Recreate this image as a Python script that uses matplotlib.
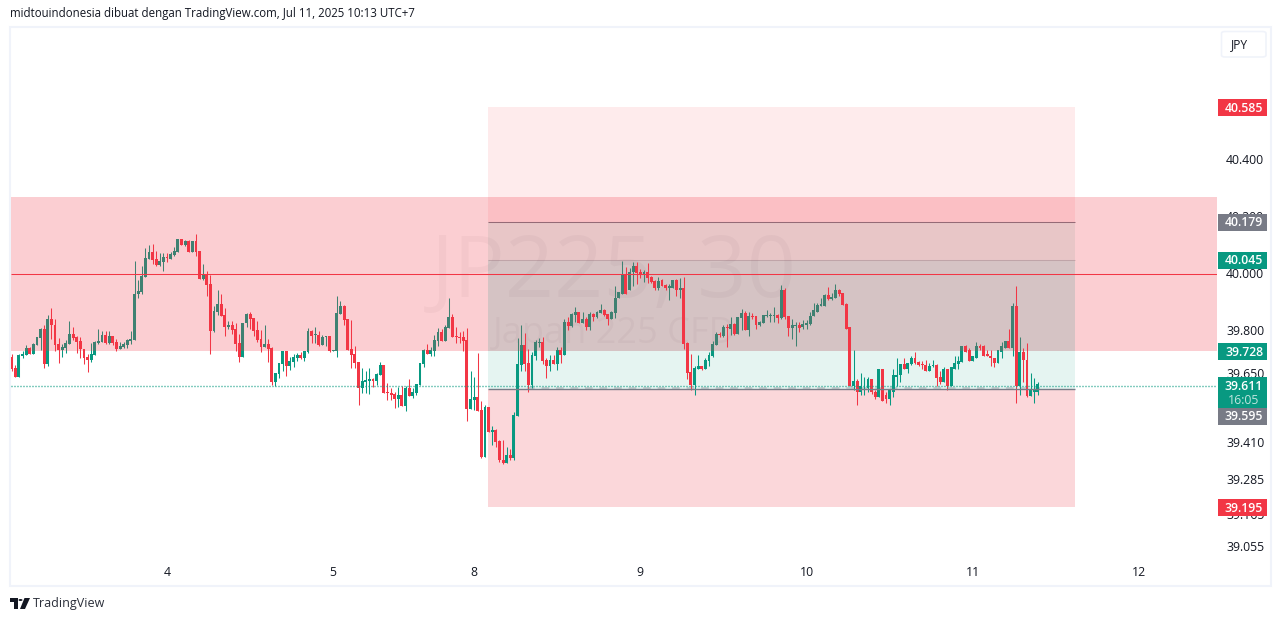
"""
JP225 30m chart rebuilt from a TradingView snapshot
"""
import numpy as np
import matplotlib
matplotlib.use('Agg')
import matplotlib.pyplot as plt
from matplotlib.patches import Rectangle, FancyBboxPatch, Polygon
from matplotlib.ticker import NullLocator, NullFormatter

# OHLC candles, index points
opens = [
    39705,39667,39637,39709,39712,39736,39715,39747,39771,39802,
    39681,39837,39819,39750,39729,39736,39750,39785,39774,39760,
    39733,39705,39694,39712,39753,39757,39781,39753,39778,39757,
    39733,39740,39747,39760,39764,39924,39934,39986,40049,40073,
    40049,40028,40038,40056,40049,40062,40073,40118,40097,40111,
    40073,40111,40076,39979,39996,39962,39795,39861,39892,39851,
    39812,39819,39802,39753,39705,39823,39854,39840,39799,
    39768,39740,39750,39736,39618,39646,39681,39726,39674,39688,
    39702,39712,39702,39723,39795,39782,39782,39747,39775,39778,
    39726,39726,39854,39882,39837,39733,39716,39688,39598,39618,
    39622,39629,39622,39643,39677,39584,39580,39577,39559,39573,
    39535,39598,39570,39580,39608,39681,39729,39716,39726,39761,
    39792,39761,39806,39844,39778,39775,39775,39764,39525,39556,
    39566,39521,39361,39532,39445,39452,39414,39351,39341,39368,
    39358,39500,39677,39747,39684,
    39608,39708,39754,39757,39695,39674,39695,39681,39729,39712,
    39827,39813,39851,39861,39823,39837,39809,39854,39844,39858,
    39868,39854,39837,39858,39910,39927,39993,39938,40004,40024,
    40004,39997,40004,39986,39972,39948,39976,39958,39945,39948,
    39976,39938,39945,39754,39653,39608,39663,39674,39663,39691,
    39708,39747,39785,39778,39809,39802,39820,39785,39840,39858,
    39799,39847,39847,39816,39823,39847,39847,39847,39851,39840,
    39941,39847,39806,39813,39816,
    39809,39819,39822,39847,39864,39885,39885,39923,39909,39913,
    39941,39930,39892,39809,39607,39621,39583,39604,39600,39628,
    39586,39566,39663,39573,39559,39586,39638,39642,39680,39666,
    39680,39704,39687,39680,39677,39659,39673,39677,39635,39618,
    39663,39607,39666,39680,39687,39743,39729,39691,39704,39743,
    39743,39715,39711,39704,39684,39725,39739,39760,39739,39885,
    39604,39722,39697,39569,39586,39586]
highs = [
    39715,39677,39715,39726,39747,39740,39753,39774,39806,39816,
    39851,39878,39837,39771,39750,39764,39830,39809,39778,39774,
    39733,39715,39753,39760,39802,39795,39795,39795,39778,39767,
    39757,39757,39767,39795,40042,39976,40024,40087,40097,40101,
    40076,40069,40069,40069,40073,40090,40118,40118,40115,40115,
    40111,40135,40076,40031,40007,39993,39885,39941,39927,39875,
    39833,39830,39826,39785,39826,39858,39861,39840,39830,
    39799,39816,39768,39740,39650,39684,39726,39726,39705,39716,
    39719,39723,39726,39806,39799,39809,39795,39782,39778,39778,
    39729,39917,39900,39886,39837,39834,39743,39688,39667,39657,
    39667,39632,39650,39688,39677,39615,39598,39584,39601,39604,
    39604,39629,39598,39611,39684,39733,39750,39740,39782,39806,
    39802,39816,39910,39854,39809,39792,39795,39806,39657,39636,
    39719,39552,39539,39532,39466,39455,39417,39420,39393,39386,
    39514,39771,39816,39788,39733,
    39722,39764,39771,39774,39702,39712,39712,39740,39740,39837,
    39844,39858,39879,39861,39861,39844,39861,39858,39865,39889,
    39872,39854,39865,39952,39931,40042,40021,40018,40038,40038,
    40014,40011,40035,39990,39976,39986,39979,39962,39962,39976,
    39979,39983,39986,39757,39715,39674,39712,39674,39702,39722,
    39761,39792,39792,39816,39820,39844,39823,39844,39872,39865,
    39861,39858,39847,39833,39851,39868,39858,39879,39854,39958,
    39945,39847,39837,39827,39827,
    39836,39836,39864,39895,39895,39913,39927,39951,39930,39961,
    39944,39930,39895,39809,39729,39628,39652,39635,39638,39628,
    39590,39666,39666,39586,39590,39666,39701,39680,39704,39684,
    39708,39725,39691,39691,39694,39684,39697,39680,39656,39670,
    39663,39670,39711,39711,39743,39746,39736,39711,39757,39750,
    39746,39729,39732,39704,39729,39757,39760,39802,39895,39954,
    39777,39736,39753,39652,39632,39618]
lows = [
    39656,39637,39637,39703,39712,39715,39715,39747,39729,39667,
    39674,39767,39726,39684,39705,39719,39750,39764,39719,39701,
    39681,39653,39687,39712,39750,39757,39750,39750,39747,39726,
    39733,39736,39736,39750,39764,39910,39924,39986,40049,40031,
    40024,40024,40007,40038,40049,40059,40073,40097,40094,40073,
    40073,40059,39979,39976,39920,39715,39792,39851,39847,39778,
    39802,39785,39726,39687,39705,39812,39802,39778,39757,
    39723,39740,39688,39608,39604,39632,39657,39639,39660,39670,
    39691,39698,39691,39719,39754,39754,39743,39747,39743,39723,
    39726,39705,39854,39816,39729,39667,39667,39539,39580,39580,
    39577,39601,39608,39643,39580,39556,39556,39528,39532,39535,
    39518,39570,39563,39573,39608,39670,39716,39709,39709,39743,
    39761,39761,39806,39775,39754,39754,39726,39483,39525,39521,
    39518,39358,39361,39445,39400,39396,39344,39337,39341,39351,
    39348,39500,39657,39657,39584,
    39597,39695,39740,39681,39632,39656,39681,39660,39684,39712,
    39799,39809,39827,39823,39823,39799,39799,39833,39840,39858,
    39847,39816,39837,39840,39910,39927,39927,39938,39952,39962,
    39983,39969,39965,39965,39938,39941,39955,39941,39903,39945,
    39920,39910,39733,39629,39590,39573,39663,39660,39663,39674,
    39705,39747,39774,39774,39740,39781,39781,39785,39799,39799,
    39778,39837,39802,39813,39823,39844,39827,39827,39823,39837,
    39837,39778,39767,39743,39792,
    39805,39805,39819,39847,39864,39885,39882,39906,39906,39913,
    39920,39888,39805,39607,39590,39541,39573,39573,39586,39579,
    39562,39566,39552,39545,39538,39566,39607,39618,39666,39652,
    39677,39680,39673,39666,39659,39656,39670,39604,39611,39618,
    39590,39607,39666,39666,39687,39725,39691,39691,39704,39732,
    39708,39708,39673,39670,39684,39704,39736,39739,39711,39545,
    39573,39618,39566,39569,39545,39573]
closes = [
    39663,39637,39712,39715,39736,39715,39750,39774,39802,39681,
    39837,39816,39747,39729,39740,39753,39785,39771,39757,39733,
    39701,39694,39715,39757,39760,39781,39753,39778,39753,39733,
    39743,39750,39764,39767,39927,39937,39990,40052,40073,40045,
    40028,40042,40056,40052,40066,40076,40118,40097,40111,40073,
    40111,40073,39979,39993,39958,39795,39865,39892,39847,39812,
    39819,39799,39750,39705,39826,39854,39837,39795,39764,
    39740,39750,39733,39618,39650,39684,39726,39674,39691,39705,
    39712,39702,39726,39795,39778,39785,39747,39775,39778,39726,
    39729,39858,39882,39834,39729,39712,39684,39598,39622,39625,
    39629,39622,39646,39677,39580,39580,39573,39559,39573,39535,
    39598,39570,39584,39611,39684,39729,39716,39729,39764,39792,
    39761,39809,39844,39775,39775,39771,39761,39525,39559,39566,
    39518,39361,39532,39445,39452,39410,39348,39341,39368,39358,
    39504,39681,39747,39681,39608,
    39712,39757,39757,39691,39674,39695,39681,39729,39712,39827,
    39813,39854,39861,39823,39837,39809,39854,39844,39861,39868,
    39851,39837,39861,39913,39931,39993,39927,40004,40024,40000,
    39993,40004,39983,39969,39948,39972,39955,39945,39952,39976,
    39938,39945,39750,39649,39608,39667,39674,39663,39695,39712,
    39750,39785,39781,39809,39806,39820,39785,39844,39858,39799,
    39847,39844,39816,39827,39851,39851,39851,39851,39840,39941,
    39844,39806,39816,39816,39806,
    39822,39826,39850,39868,39888,39892,39923,39909,39916,39941,
    39927,39888,39805,39607,39621,39583,39607,39607,39628,39583,
    39566,39663,39555,39559,39590,39642,39645,39680,39666,39684,
    39704,39684,39677,39677,39659,39673,39677,39632,39618,39663,
    39607,39670,39684,39691,39743,39725,39691,39708,39743,39739,
    39711,39708,39701,39684,39729,39743,39760,39739,39885,39604,
    39722,39694,39569,39590,39590,39611]

# axis ticks
day_bars = [43, 89, 128, 174, 220, 266, 312]
day_labels = ['4', '5', '8', '9', '10', '11', '12']
price_ticks = [40600, 40400, 40200, 40000, 39800, 39650, 39410, 39285, 39165, 39055]
price_tick_labels = ['40.600', '40.400', '40.200', '40.000', '39.800',
                     '39.650', '39.410', '39.285', '39.165', '39.055']

# drawn levels
zone_low, zone_high = 39728, 40267
red_level = 39996
last_price = 39607
tool_start, tool_end = 131.8, 294.3
tool_top, tool_upper, tool_mid, tool_entry, tool_bottom = 40585, 40179, 40045, 39595, 39188
dash_start, dash_end = 142.6, 284.6

UP = '#089981'
DOWN = '#F23645'
GREY = '#787B86'
TEXT = '#131722'

W, H = 1281, 621
plt.rcParams['font.family'] = ['Open Sans', 'DejaVu Sans']


def fx(px):
    return px / W


def fy(py):
    return 1 - py / H


fig = plt.figure(figsize=(W / 100, H / 100), dpi=100, facecolor='white')

# borde del panel
fig.add_artist(Rectangle((fx(9.5), fy(586)), fx(1271) - fx(9.5), fy(26.5) - fy(586),
                         transform=fig.transFigure, fc='white', ec='#F0F3FA', lw=1.5, zorder=-1))

ax = fig.add_axes([fx(11), fy(585), fx(1206), fy(27) - fy(585)])
ax.set_facecolor('none')
ax.set_yscale('log')
ax.set_xlim(-0.19, 333.6)
ax.set_ylim(38921.5, 40869.5)
for s in ax.spines.values():
    s.set_visible(False)

ax.yaxis.tick_right()
ax.set_yticks(price_ticks)
ax.set_yticklabels(price_tick_labels)
ax.yaxis.set_minor_locator(NullLocator())
ax.yaxis.set_minor_formatter(NullFormatter())
ax.set_xticks(day_bars)
ax.set_xticklabels(day_labels)
ax.tick_params(length=0, labelsize=8.8, labelcolor=TEXT)
ax.tick_params(axis='y', pad=6.5)
ax.tick_params(axis='x', pad=-14)
ax.patch.set_visible(False)

# marca de agua
ax.text(0.5, 1 - (275 - 27) / 558, 'JP225, 30', transform=ax.transAxes, ha='center', va='center',
        fontsize=62, color='#131722', alpha=0.04, zorder=1.5)
ax.text(0.5, 1 - (334 - 27) / 558, 'Japan 225 CFD', transform=ax.transAxes, ha='center', va='center',
        fontsize=26, color='#131722', alpha=0.04, zorder=1.5)

# rectangulos de la herramienta de posicion
tool_w = tool_end - tool_start
bands = [(tool_upper, tool_top, '#FEEBEC'),
         (tool_mid, tool_upper, '#E5F4F1'),
         (zone_low, tool_mid, '#CDF0EC'),
         (tool_entry, zone_low, '#E5F4F1'),
         (tool_bottom, tool_entry, '#FBD7DA')]
for lo, hi, col in bands:
    ax.add_patch(Rectangle((tool_start, lo), tool_w, hi - lo, fc=col, ec='none', zorder=1))

dashes = ax.hlines(39600, dash_start, dash_end, color=GREY, lw=1.1, alpha=0.4,
                   linestyles=(0, (5, 4.5)), zorder=2)
dashes.set_snap(True)

# velas
o = np.array(opens)
h = np.array(highs)
l = np.array(lows)
c = np.array(closes)
idx = np.arange(len(o))
cols = np.where(c >= o, UP, DOWN)
wicks = ax.vlines(idx, l, h, colors=cols, lw=0.75, zorder=3)
wicks.set_snap(True)
ax.bar(idx, np.abs(c - o), 0.8, bottom=np.minimum(o, c), color=cols, lw=0, zorder=3)

# lineas de la herramienta, tapadas por la zona roja
for lvl, a in [(tool_upper, 1.0), (tool_mid, 0.35)]:
    ln = ax.hlines(lvl, tool_start, tool_end, color=GREY, lw=0.75, alpha=a, zorder=3.5)
    ln.set_snap(True)

# zona roja por encima de las velas
ax.add_patch(Rectangle((-0.19, zone_low), 333.79, zone_high - zone_low,
                       fc=DOWN, ec='none', alpha=0.24, zorder=4))

for lvl, col, lw, ls, x0, x1 in [(red_level, DOWN, 0.75, 'solid', -0.19, 333.6),
                                 (last_price, UP, 1.0, (0, (0.72, 1.44)), -0.19, 333.6),
                                 (tool_entry, GREY, 1.0, 'solid', tool_start, tool_end)]:
    ln = ax.hlines(lvl, x0, x1, color=col, lw=lw, linestyles=ls, zorder=5)
    ln.set_snap(True)


# etiquetas de precio en la escala
def price_tag(top, bottom, col, text):
    fig.add_artist(FancyBboxPatch((fx(1218), fy(bottom)), fx(49), fy(top) - fy(bottom),
                                  boxstyle='square,pad=0', transform=fig.transFigure,
                                  fc=col, ec='none', zorder=6))
    fig.text(fx(1244), fy((top + bottom) / 2 + 0.5), text, color='white', fontsize=8.8,
             fontweight='semibold', ha='center', va='center', zorder=7)


price_tag(99, 116, DOWN, '40.585')
price_tag(214, 231, GREY, '40.179')
price_tag(252, 269, UP, '40.045')
price_tag(343, 360, UP, '39.728')
price_tag(377, 394, UP, '39.611')
price_tag(391, 408, UP, '')
fig.text(fx(1244), fy(400), '16:05', color='white', alpha=0.75, fontsize=8.8,
         ha='center', va='center', zorder=7)
price_tag(408, 425, GREY, '39.595')
price_tag(499, 516, DOWN, '39.195')

# boton de moneda
fig.add_artist(FancyBboxPatch((fx(1221.5), fy(57)), fx(44.5), fy(31.5) - fy(57),
                              boxstyle='round,pad=0,rounding_size=0.003', transform=fig.transFigure,
                              fc='white', ec='#F0F3FA', lw=1.2, zorder=6))
fig.text(fx(1240), fy(44.5), 'JPY', color=TEXT, fontsize=8.6, ha='center', va='center', zorder=7)

# cabecera y logo
fig.text(fx(10), fy(14), 'midtouindonesia dibuat dengan TradingView.com, Jul 11, 2025 10:13 UTC+7',
         color=TEXT, fontsize=8.29, ha='left', va='center')
fig.text(fx(33), fy(603.5), 'TradingView', color='#2A2E39', fontsize=9.0, ha='left', va='center')
logo = [[(10, 598), (18, 598), (18, 609), (14, 609), (14, 602), (10, 602)],
        [(24.5, 598), (30, 598), (25, 609), (20, 609)]]
for pts in logo:
    fig.add_artist(Polygon([(fx(a), fy(b)) for a, b in pts], closed=True,
                           transform=fig.transFigure, fc='#131722', ec='none'))
fig.add_artist(plt.Circle((fx(20.5), fy(600)), fx(2), transform=fig.transFigure, fc='#131722', ec='none'))

fig.savefig('out.png', dpi=100)
